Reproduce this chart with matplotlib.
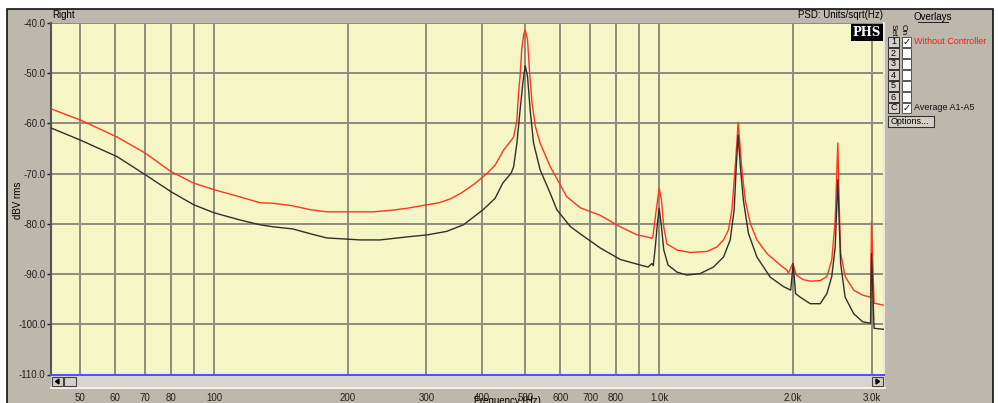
import matplotlib.pyplot as plt
from matplotlib.patches import Rectangle, Polygon
from matplotlib.ticker import NullLocator
from matplotlib.lines import Line2D

W, H = 998, 403

# red trace: "Without Controller"  (Hz, dBV)
red_points = [
    (43, -57.1), (50, -59.3), (60.5, -62.7), (70, -65.9), (80, -69.6), (90, -71.9),
    (100, -73.2), (114, -74.6), (127, -75.8), (136, -75.9), (150, -76.4), (165, -77.2),
    (179, -77.6), (200, -77.6), (228, -77.6), (250, -77.3), (271, -76.9), (301, -76.2),
    (320, -75.8), (340, -75.0), (360, -73.8), (385, -72.0), (410, -70.0), (428, -68.3),
    (447, -65.3),
    (463, -63.6), (471, -62.7), (479, -59.3), (483, -54.0), (487, -50.6), (491, -45.3),
    (496, -42.3), (500, -41.4), (506, -43.3), (511, -49.3), (518, -55.9), (527, -60.6),
    (540, -63.9), (569, -68.6), (620, -74.6), (665, -76.8), (737, -78.3), (818, -80.6),
    (892, -82.2), (940, -82.6), (963, -82.9), (968, -82.6), (985, -77.2), (1000, -72.9),
    (1012, -75.3), (1024, -80.6), (1041, -84.0), (1096, -85.2), (1174, -85.7),
    (1280, -85.5), (1348, -84.6), (1395, -83.2), (1431, -81.2), (1457, -77.2),
    (1482, -68.6), (1505, -59.8), (1532, -68.6), (1561, -75.3), (1602, -79.9),
    (1658, -83.2), (1746, -85.9), (1871, -88.2), (1936, -89.2), (1953, -89.8),
    (1995, -87.9), (2034, -90.2), (2106, -91.1), (2182, -91.4), (2300, -91.3),
    (2381, -90.5), (2442, -87.2), (2486, -79.2), (2520, -63.9), (2537, -75.8),
    (2557, -85.8), (2617, -90.5), (2736, -93.2), (2865, -94.2), (2985, -94.6),
    (3000, -79.6), (3040, -95.8), (3200, -96.2),
]

# black trace: "Average A1-A5"  (Hz, dBV)
avg_points = [
    (43, -60.9), (50, -63.3), (60.5, -66.6), (70, -70.2), (80, -73.6), (90, -76.2),
    (100, -77.8), (114, -79.2), (127, -80.2), (136, -80.6), (150, -81.0), (165, -82.0),
    (179, -82.8), (213, -83.2), (236, -83.2), (271, -82.6), (301, -82.2), (333, -81.5),
    (363, -80.2), (402, -77.2), (428, -74.9), (445, -71.9), (455, -70.9), (465, -69.9),
    (471, -68.6), (479, -63.9), (487, -57.3), (494, -51.9), (500, -48.5), (506, -50.6),
    (513, -57.3), (522, -63.9), (540, -69.2), (569, -73.9), (589, -77.2), (631, -80.5),
    (665, -82.0), (737, -84.8), (818, -87.1), (907, -88.2), (944, -88.6), (963, -87.9),
    (970, -88.3), (980, -84.6), (991, -79.9), (1000, -76.9), (1012, -80.6),
    (1024, -85.2), (1047, -88.2), (1096, -89.6), (1154, -90.2), (1236, -89.9),
    (1324, -88.6), (1395, -86.6), (1444, -83.2), (1474, -77.2), (1490, -68.6),
    (1505, -62.3), (1522, -68.6), (1546, -75.3), (1587, -81.9), (1658, -86.6),
    (1776, -90.6), (1903, -92.5), (1975, -93.2), (2000, -87.9), (2025, -93.9),
    (2075, -94.6), (2184, -95.9), (2300, -95.9), (2381, -93.9), (2442, -90.5),
    (2486, -84.6), (2520, -71.2), (2537, -79.2), (2557, -87.9), (2617, -94.6),
    (2736, -97.9), (2865, -99.5), (2985, -99.8), (3000, -85.9), (3040, -100.8),
    (3200, -101.0),
]
red_freq, red_db = zip(*red_points)
avg_freq, avg_db = zip(*avg_points)

xtick_vals = [50, 60, 70, 80, 90, 100, 200, 300, 400, 500, 600, 700, 800, 900, 1000, 2000, 3000]
xtick_text = ['50', '60', '70', '80', '', '100', '200', '300', '400', '500', '600', '700',
              '800', '', '1.0k', '2.0k', '3.0k']
ytick_vals = [-40, -50, -60, -70, -80, -90, -100, -110]

overlay_ids = ['1', '2', '3', '4', '5', '6', 'C']
overlay_names = ['Without Controller', '', '', '', '', '', 'Average A1-A5']
overlay_on = [True, False, False, False, False, False, True]
overlay_colors = ['#ff2010', 'k', 'k', 'k', 'k', 'k', '#111111']


def fx(x):
    return x / W


def fy(y):
    return 1 - y / H


def box(x0, y0, x1, y1, **kw):
    r = Rectangle((fx(x0), fy(y1)), (x1 - x0) / W, (y1 - y0) / H,
                  transform=fig.transFigure, **kw)
    fig.patches.append(r)
    return r


def hline(x0, x1, y, **kw):
    fig.add_artist(Line2D([fx(x0), fx(x1)], [fy(y), fy(y)], transform=fig.transFigure, **kw))


plt.rcParams['font.family'] = ['Liberation Sans', 'DejaVu Sans']

fig = plt.figure(figsize=(W / 100, H / 100), dpi=100)
fig.patch.set_facecolor('white')
panel = '#bdb7ac'
box(7, 9, 993, 405, facecolor=panel, edgecolor='#111111', lw=1.2, zorder=-2)

ax = fig.add_axes([fx(51), fy(374.5), (884 - 51) / W, (374.5 - 23) / H])
ax.set_facecolor('#f6f5c6')
ax.set_xscale('log')
ax.set_xlim(43, 3200)
ax.set_ylim(-110, -40)

grid_c = '#8e8d7c'
for v in xtick_vals:
    ax.axvline(v, color=grid_c, lw=1.4, zorder=1)
for v in ytick_vals[:-1]:
    ax.axhline(v, color=grid_c, lw=1.4, zorder=1)
ax.axhline(-110, color='#5050ff', lw=1.5, zorder=4, clip_on=False)

ax.plot(red_freq, red_db, color='#ff3422', lw=1.0, zorder=3)
ax.plot(avg_freq, avg_db, color='#30302a', lw=1.0, zorder=3)

ax.xaxis.set_minor_locator(NullLocator())
ax.set_xticks(xtick_vals, xtick_text)
ax.set_yticks(ytick_vals, [f'{v:.1f}' for v in ytick_vals])
ax.tick_params(axis='x', length=0, pad=13, labelsize=7, colors='#222222')
ax.tick_params(axis='y', length=3, width=1, pad=1, labelsize=7, colors='#222222')
for s in ['top', 'bottom']:
    ax.spines[s].set_visible(False)
ax.spines['left'].set_color('#555555')
ax.spines['left'].set_linewidth(1.5)
ax.spines['right'].set_color('#e8e6e0')
ax.spines['right'].set_linewidth(1.5)

# scrollbar under the plot
box(51, 375.5, 885, 387, facecolor='#d8d5cf', edgecolor='none', zorder=2)
hline(51, 885, 387.5, color='white', lw=1.2)
box(52, 377, 63, 386, facecolor='#d4d0c8', edgecolor='#444444', lw=0.8, zorder=3)
fig.patches.append(Polygon([[fx(55.5), fy(381.5)], [fx(59), fy(379)], [fx(59), fy(384)]],
                           closed=True, transform=fig.transFigure, color='k', zorder=4))
box(64, 377, 76, 386, facecolor='#d4d0c8', edgecolor='#444444', lw=0.8, zorder=3)
box(872, 377, 883, 386, facecolor='#d4d0c8', edgecolor='#444444', lw=0.8, zorder=3)
fig.patches.append(Polygon([[fx(879.5), fy(381.5)], [fx(876), fy(379)], [fx(876), fy(384)]],
                           closed=True, transform=fig.transFigure, color='k', zorder=4))

fig.text(fx(18), fy(200), 'dBV rms', rotation=90, fontsize=7, ha='center', va='center')
fig.text(fx(507), fy(401), 'Frequency (Hz)', fontsize=7, ha='center', va='center')
fig.text(fx(52), fy(15), 'Right', fontsize=7, va='center')
fig.text(fx(883), fy(15), 'PSD: Units/sqrt(Hz)', fontsize=7, ha='right', va='center')

# PHS logo
box(851, 24, 883, 41, facecolor='black', edgecolor='none', zorder=5)
fig.text(fx(867), fy(32.5), 'PHS', color='white', family='DejaVu Serif', fontsize=8.5,
         fontweight='bold', ha='center', va='center', zorder=6)

# overlays panel
fig.text(fx(933), fy(17), 'Overlays', fontsize=7, ha='center', va='center')
hline(918, 948, 22, color='#222222', lw=0.7)
fig.text(fx(893), fy(30), 'Set', fontsize=6, rotation=270, ha='center', va='center')
fig.text(fx(903), fy(30), 'On', fontsize=6, rotation=270, ha='center', va='center')
row_y = [42, 53, 64, 75, 86, 97, 108]
for ry, rid, name, on, col in zip(row_y, overlay_ids, overlay_names, overlay_on, overlay_colors):
    box(888, ry - 5, 899, ry + 5, facecolor='#d4d0c8', edgecolor='#333333', lw=0.7, zorder=3)
    fig.text(fx(893.5), fy(ry), rid, fontsize=6.5, ha='center', va='center', zorder=4)
    box(902, ry - 5, 911, ry + 5, facecolor='white', edgecolor='#555555', lw=0.7, zorder=3)
    if on:
        fig.text(fx(906.5), fy(ry), '\u2713', family='DejaVu Sans', fontsize=7,
                 fontweight='bold', ha='center', va='center', zorder=4)
    if name:
        fig.text(fx(914), fy(ry), name, fontsize=6.5, color=col, ha='left', va='center')

box(888, 116, 934, 127, facecolor='#d4d0c8', edgecolor='#333333', lw=0.8, zorder=3)
fig.text(fx(910), fy(121.5), 'Options...', fontsize=6.5, ha='center', va='center', zorder=4)

fig.savefig('out.png', dpi=100)
